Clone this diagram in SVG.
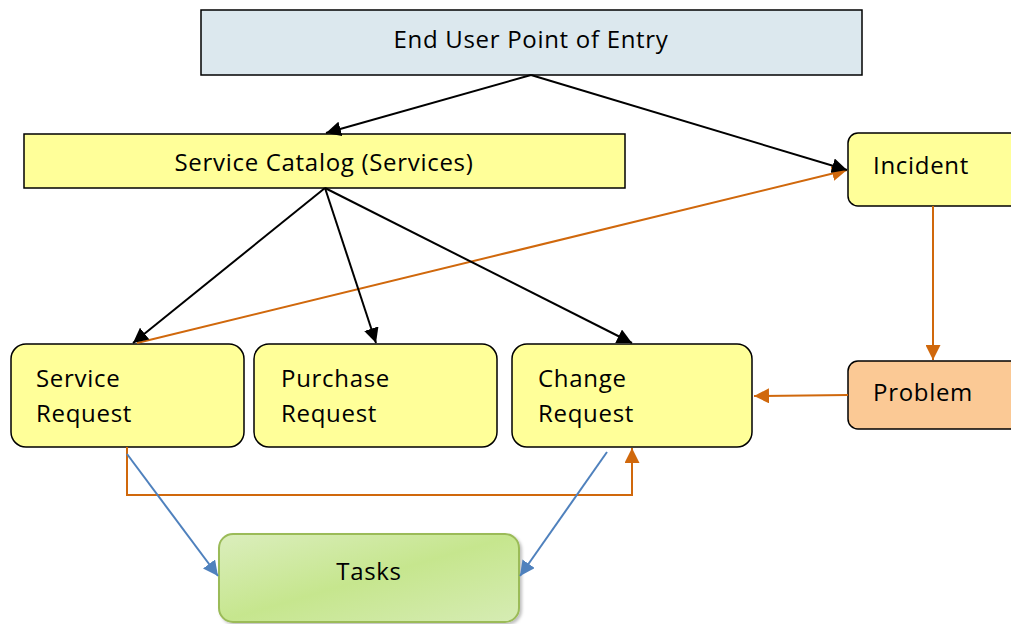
<svg xmlns="http://www.w3.org/2000/svg" width="1011" height="624" viewBox="0 0 1011 624">
  <style>
    text { font-family: "Open Sans", "Noto Sans", "Liberation Sans", sans-serif; font-size: 24px; letter-spacing: 0.7px; fill: #000; }
    .box { stroke: #000; stroke-width: 1.5; }
    .yellow { fill: #ffff99; }
    .line-k { stroke: #000; stroke-width: 2; fill: none; }
    .line-o { stroke: #d0680c; stroke-width: 2; fill: none; }
    .line-b { stroke: #4f81bd; stroke-width: 2; fill: none; }
  </style>
  <defs>
    <marker id="ah-k" viewBox="0 0 10 10" refX="10" refY="5" markerWidth="7.5" markerHeight="7.5" markerUnits="strokeWidth" orient="auto">
      <path d="M0,0 L10,5 L0,10 z" fill="#000"/>
    </marker>
    <marker id="ah-o" viewBox="0 0 10 10" refX="10" refY="5" markerWidth="7.5" markerHeight="7.5" markerUnits="strokeWidth" orient="auto">
      <path d="M0,0 L10,5 L0,10 z" fill="#d0680c"/>
    </marker>
    <marker id="ah-b" viewBox="0 0 10 10" refX="10" refY="5" markerWidth="7.5" markerHeight="7.5" markerUnits="strokeWidth" orient="auto">
      <path d="M0,0 L10,5 L0,10 z" fill="#4f81bd"/>
    </marker>
    <linearGradient id="green" x1="0" y1="0" x2="1" y2="1">
      <stop offset="0" stop-color="#dbeebd"/>
      <stop offset="0.5" stop-color="#c6e68e"/>
      <stop offset="1" stop-color="#d6ecb4"/>
    </linearGradient>
    <filter id="shadow" x="-5%" y="-5%" width="115%" height="120%">
      <feDropShadow dx="2" dy="2" stdDeviation="1.5" flood-color="#000" flood-opacity="0.25"/>
    </filter>
  </defs>

  <g id="entry">
    <rect class="box" x="201" y="10" width="661" height="65" fill="#dce8ee"/>
    <text x="531" y="48" text-anchor="middle">End User Point of Entry</text>
  </g>

  <g id="catalog">
    <rect class="box yellow" x="24" y="134" width="601" height="54"/>
    <text x="324" y="171" text-anchor="middle">Service Catalog (Services)</text>
  </g>

  <g id="incident">
    <rect class="box yellow" x="848" y="133" width="180" height="73" rx="10"/>
    <text x="873" y="174">Incident</text>
  </g>

  <g id="service-request">
    <rect class="box yellow" x="11" y="344" width="233" height="103" rx="15"/>
    <text x="36" y="387">Service</text>
    <text x="36" y="422">Request</text>
  </g>

  <g id="purchase-request">
    <rect class="box yellow" x="254" y="344" width="243" height="103" rx="15"/>
    <text x="281" y="387">Purchase</text>
    <text x="281" y="422">Request</text>
  </g>

  <g id="change-request">
    <rect class="box yellow" x="512" y="344" width="240" height="103" rx="15"/>
    <text x="538" y="387">Change</text>
    <text x="538" y="422">Request</text>
  </g>

  <g id="problem">
    <rect class="box" x="848" y="361" width="180" height="68" rx="10" fill="#fbc995"/>
    <text x="873" y="401">Problem</text>
  </g>

  <g id="tasks">
    <rect x="219" y="534" width="300" height="88" rx="14" fill="url(#green)" stroke="#9bbb59" stroke-width="2" filter="url(#shadow)"/>
    <text x="369" y="580" text-anchor="middle">Tasks</text>
  </g>

  <g id="connectors">
    <line class="line-k" x1="531" y1="75" x2="326" y2="133" marker-end="url(#ah-k)"/>
    <line class="line-o" x1="137" y1="343" x2="847" y2="170" marker-end="url(#ah-o)"/>
    <line class="line-k" x1="531" y1="75" x2="847" y2="170" marker-end="url(#ah-k)"/>
    <line class="line-k" x1="325" y1="188" x2="133" y2="343" marker-end="url(#ah-k)"/>
    <line class="line-k" x1="325" y1="188" x2="376" y2="343" marker-end="url(#ah-k)"/>
    <line class="line-k" x1="325" y1="188" x2="632" y2="343" marker-end="url(#ah-k)"/>
    <line class="line-o" x1="933" y1="206" x2="933" y2="360" marker-end="url(#ah-o)"/>
    <line class="line-o" x1="848" y1="395" x2="754" y2="396" marker-end="url(#ah-o)"/>
    <polyline class="line-o" points="127,447 127,495 632,495 632,448" marker-end="url(#ah-o)"/>
    <line class="line-b" x1="127" y1="454" x2="218" y2="576" marker-end="url(#ah-b)"/>
    <line class="line-b" x1="607" y1="452" x2="520" y2="576" marker-end="url(#ah-b)"/>
  </g>
</svg>
